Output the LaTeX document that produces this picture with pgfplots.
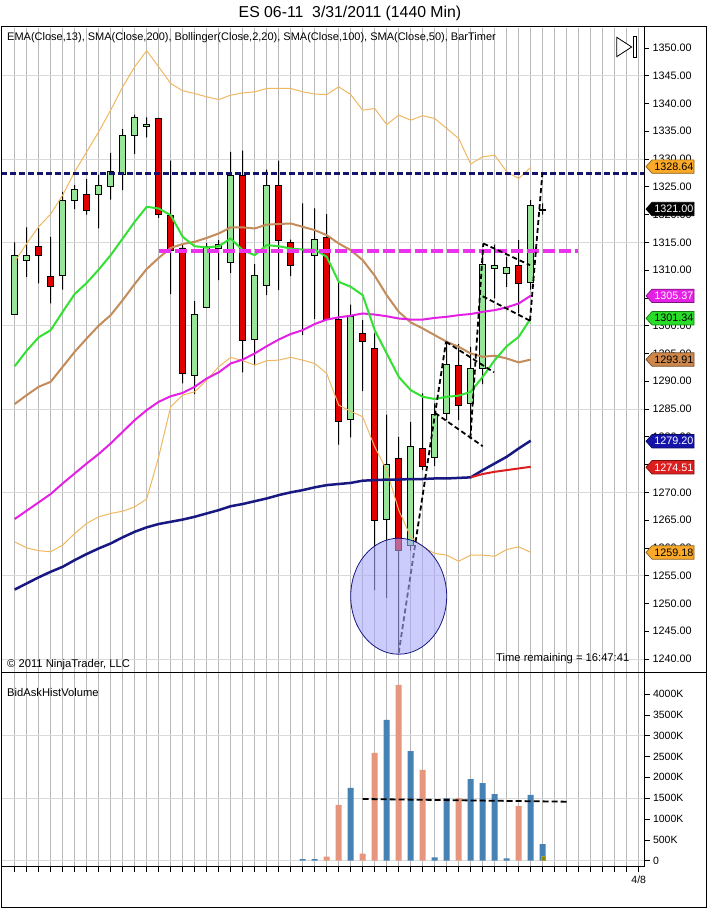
\documentclass[border=0pt]{standalone}
\usepackage{fontspec}
\setmainfont{Liberation Sans}
\usepackage{pgfplots}
\usepackage{pgfplotstable}
\pgfplotsset{compat=1.18}
\usetikzlibrary{calc}

\definecolor{candgreen}{RGB}{152,228,152}
\definecolor{candred}{RGB}{224,0,0}
\definecolor{bband}{RGB}{240,184,96}
\definecolor{emagreen}{RGB}{50,225,50}
\definecolor{smabrown}{RGB}{196,140,90}
\definecolor{smamag}{RGB}{228,32,228}
\definecolor{smanavy}{RGB}{24,24,130}
\definecolor{smared}{RGB}{220,30,30}
\definecolor{hnavy}{RGB}{20,20,110}
\definecolor{hmag}{RGB}{236,50,236}
\definecolor{volsal}{RGB}{230,150,125}
\definecolor{volblue}{RGB}{70,130,180}
\definecolor{vgrid}{RGB}{185,185,185}
\definecolor{hgrid}{RGB}{218,218,218}
\definecolor{ellfill}{RGB}{170,170,250}
\definecolor{flagorange}{RGB}{250,170,40}
\definecolor{flaggreen}{RGB}{40,220,40}
\definecolor{flagbrown}{RGB}{205,135,75}
\definecolor{flagnavy}{RGB}{20,20,170}

\pgfplotstableread{
i o h l c
0 1302.1 1315.0 1302.1 1312.7
1 1311.8 1317.7 1308.8 1312.7
2 1314.2 1317.5 1307.6 1312.6
3 1308.9 1316.0 1304.0 1307.1
4 1309.1 1324.1 1306.5 1322.6
5 1322.6 1325.3 1321.0 1324.5
6 1323.6 1326.4 1320.0 1320.8
7 1323.6 1327.2 1317.5 1325.3
8 1325.1 1331.1 1322.7 1327.8
9 1327.3 1335.4 1324.4 1334.3
10 1334.3 1338.0 1330.9 1337.5
11 1335.9 1337.5 1333.9 1336.2
12 1337.3 1337.4 1319.4 1320.0
13 1319.9 1329.7 1305.7 1313.6
14 1314.0 1314.8 1289.6 1291.4
15 1291.0 1304.4 1287.7 1302.0
16 1303.3 1314.9 1303.3 1314.2
17 1313.9 1315.4 1308.2 1314.6
18 1311.4 1331.3 1309.5 1327.1
19 1327.1 1331.5 1291.6 1297.3
20 1297.5 1311.1 1292.9 1309.1
21 1307.2 1328.1 1305.5 1325.3
22 1325.3 1329.7 1306.4 1315.4
23 1315.0 1315.5 1308.9 1310.8
24 1312.3 1322.0 1298.3 1312.3
25 1312.7 1321.1 1301.2 1315.5
26 1315.9 1320.1 1301.2 1301.2
27 1301.2 1307.9 1278.6 1282.7
28 1283.1 1303.8 1279.9 1301.6
29 1298.6 1301.0 1288.2 1297.1
30 1295.9 1298.6 1252.4 1265.0
31 1265.2 1284.0 1251.0 1275.0
32 1276.1 1280.0 1241.0 1259.6
33 1260.5 1282.7 1259.5 1278.2
34 1277.9 1287.8 1274.0 1274.6
35 1276.3 1286.0 1274.7 1284.0
36 1284.3 1297.0 1283.0 1293.0
37 1292.9 1296.7 1283.0 1285.6
38 1286.0 1296.2 1279.8 1292.3
39 1292.3 1313.0 1289.5 1311.1
40 1310.3 1314.6 1304.9 1310.8
41 1309.4 1312.4 1307.0 1310.5
42 1310.8 1315.4 1302.2 1307.6
43 1307.8 1322.6 1306.5 1321.7
44 1320.75 1322.0 1320.0 1321.0
}\candles

\pgfplotstableread{
i bu bl e b m n
0 1311.5 1261.1 1292.7 1285.9 1265.2 1252.5
1 1314.8 1260.0 1295.5 1287.5 1266.7 1253.6
2 1317.8 1259.5 1297.9 1289.0 1268.2 1254.7
3 1320.1 1259.3 1299.2 1289.9 1269.7 1255.7
4 1323.5 1260.5 1302.5 1292.6 1271.6 1256.6
5 1327.7 1262.6 1305.7 1295.3 1273.4 1257.8
6 1331.3 1264.4 1307.7 1297.7 1275.2 1258.9
7 1334.9 1265.6 1310.1 1300.0 1276.9 1259.9
8 1338.8 1266.2 1312.7 1301.9 1278.8 1260.8
9 1343.0 1266.6 1315.7 1304.6 1280.9 1261.9
10 1346.6 1267.4 1318.7 1307.5 1283.0 1262.9
11 1349.5 1268.8 1321.4 1310.2 1284.8 1263.7
12 1346.6 1276.4 1321.1 1312.2 1286.3 1264.3
13 1343.6 1285.4 1319.9 1314.0 1287.3 1264.7
14 1342.3 1287.5 1316.0 1314.7 1287.9 1265.1
15 1341.8 1288.1 1314.3 1315.1 1289.0 1265.6
16 1341.2 1290.2 1314.1 1315.8 1290.5 1266.2
17 1340.7 1292.6 1314.3 1316.6 1291.6 1266.8
18 1341.5 1294.3 1315.7 1317.7 1293.2 1267.5
19 1341.9 1293.7 1313.6 1317.7 1293.9 1267.9
20 1342.1 1292.9 1312.7 1317.5 1295.0 1268.4
21 1342.7 1293.7 1314.5 1318.2 1296.3 1268.9
22 1342.7 1293.8 1314.3 1318.3 1297.5 1269.5
23 1342.7 1294.3 1313.9 1318.4 1298.5 1270.0
24 1342.1 1293.8 1313.7 1317.8 1299.2 1270.4
25 1341.7 1293.2 1313.7 1317.2 1300.3 1270.9
26 1341.6 1291.4 1312.4 1316.3 1301.1 1271.3
27 1343.0 1285.7 1307.9 1314.8 1301.5 1271.5
28 1341.6 1284.6 1307.0 1313.6 1301.8 1271.7
29 1338.8 1283.6 1305.5 1311.8 1302.2 1272.1
30 1339.1 1278.2 1299.2 1309.0 1302.0 1272.2
31 1336.2 1274.0 1295.0 1305.5 1301.7 1272.3
32 1337.9 1266.8 1290.8 1302.5 1301.3 1272.3
33 1337.0 1262.0 1288.4 1300.6 1301.1 1272.4
34 1337.8 1260.2 1287.2 1299.5 1301.1 1272.4
35 1337.3 1259.0 1286.8 1298.3 1301.4 1272.5
36 1335.5 1258.7 1287.2 1297.1 1301.6 1272.5
37 1333.7 1257.6 1287.4 1296.2 1301.9 1272.6
38 1329.1 1258.7 1288.1 1295.0 1302.1 1272.7
39 1330.4 1258.7 1290.8 1294.4 1302.5 1274.0
40 1330.7 1258.5 1293.8 1294.6 1302.8 1275.2
41 1327.7 1259.7 1296.3 1294.1 1303.3 1276.4
42 1326.5 1260.2 1298.0 1293.4 1304.0 1277.9
43 1328.5 1259.2 1301.3 1293.9 1305.4 1279.3
}\ind

\pgfplotstableread{
i v
24 40
25 40
28 1745
31 3380
33 2630
35 80
36 1500
38 1960
39 1860
40 1600
41 55
43 1580
44 400
}\volup

\pgfplotstableread{
i v
26 100
27 1340
29 170
30 2590
32 4220
34 2180
37 1500
42 1310
}\voldn

\pgfplotsset{
  upperbase/.style={at={(1pt,237pt)}, anchor=south west, scale only axis,
    width=643pt, height=645pt, xmin=-1.14, xmax=52.44, ymin=1237.48, ymax=1353.59,
    axis line style={draw=none}},
}

\newcommand{\flag}[4]{%
  \draw[fill=#2, draw=#2!55!black, line width=0.7pt] ($(#1)+(2,0)$) -- ++(6,6.7) -- ++(42,0) -- ++(0,-13.4) -- ++(-42,0) -- cycle;
  \node[anchor=east, inner sep=0pt, text=#3, font=\fontsize{10.8}{12}\selectfont] at ($(#1)+(49.5,0)$) {#4};}

\begin{document}
\begin{tikzpicture}[x=1pt,y=1pt]
\useasboundingbox (0,0) rectangle (707,910);
\fill[white] (0,0) rectangle (707,910);

% ---------- upper panel: grid, ticks, wicks
\begin{axis}[upperbase,
  ybar stacked, bar width=1pt,
  xtick={0,...,52}, xticklabels={}, xtick style={draw=none},
  xmajorgrids, major grid style={color=vgrid, line width=0.8pt},
  ytick={1240,1245,...,1350},
  yticklabels={1240.00,1245.00,1250.00,1255.00,1260.00,1265.00,1270.00,1275.00,1280.00,1285.00,1290.00,1295.00,1300.00,1305.00,1310.00,1315.00,1320.00,1325.00,1330.00,1335.00,1340.00,1345.00,1350.00},
  ytick pos=right, yticklabel pos=right, tick align=outside, major tick length=5pt,
  ytick style={black, line width=0.7pt},
  yticklabel style={font=\fontsize{10.8}{12}\selectfont},
  extra y ticks={1240,1255,1270,1285,1300,1315,1330,1345},
  extra y tick labels={},
  extra y tick style={grid=major, major grid style={color=hgrid, line width=0.8pt}},
]
\addplot[draw=none, fill=none] table[x=i, y=l]{\candles};
\addplot[fill=black, draw=none] table[x=i, y expr=\thisrow{h}-\thisrow{l}]{\candles};
\end{axis}

% ---------- candle bodies
\begin{axis}[upperbase, hide axis, ybar stacked, bar width=6pt]
\addplot[draw=none, fill=none] table[x=i, y expr={min(\thisrow{o},\thisrow{c})}]{\candles};
\addplot[fill=candgreen, draw=black, line width=0.8pt] table[x=i, y expr={max(\thisrow{c}-\thisrow{o},0)}]{\candles};
\addplot[fill=candred, draw=black, line width=0.8pt] table[x=i, y expr={max(\thisrow{o}-\thisrow{c},0)}]{\candles};
\end{axis}

% ---------- indicators and drawings
\begin{axis}[upperbase, hide axis]
\addplot[bband, line width=1pt, mark=none] table[x=i, y=bu]{\ind};
\addplot[bband, line width=1pt, mark=none] table[x=i, y=bl]{\ind};
\addplot[smabrown, line width=2pt, mark=none] table[x=i, y=b]{\ind};
\addplot[smamag, line width=2pt, mark=none] table[x=i, y=m]{\ind};
\addplot[emagreen, line width=2pt, mark=none] table[x=i, y=e]{\ind};
\addplot[smanavy, line width=2.5pt, mark=none] table[x=i, y=n]{\ind};
\addplot[smared, line width=2pt, mark=none] coordinates {(38,1272.7) (39,1273.3) (40,1273.7) (41,1274.0) (42,1274.3) (43,1274.6)};
\addplot[hnavy, line width=2.2pt, dash pattern=on 6pt off 3pt, mark=none] coordinates {(-1.14,1327.4) (52.44,1327.4)};
\addplot[hmag, line width=4pt, dash pattern=on 12pt off 4pt, mark=none] coordinates {(12,1313.45) (46.9,1313.45)};
\addplot[black, line width=1.8pt, dash pattern=on 5pt off 3pt, mark=none] coordinates {(32.0,1241.1) (35.94,1297.1)};
\addplot[black, line width=1.8pt, dash pattern=on 5pt off 3pt, mark=none] coordinates {(35.94,1297.1) (39.94,1291.6)};
\addplot[black, line width=1.8pt, dash pattern=on 5pt off 3pt, mark=none] coordinates {(35.03,1284.3) (39.0,1278.3)};
\addplot[black, line width=1.8pt, dash pattern=on 5pt off 3pt, mark=none] coordinates {(37.97,1279.7) (39.05,1314.8)};
\addplot[black, line width=1.8pt, dash pattern=on 5pt off 3pt, mark=none] coordinates {(39.05,1314.8) (42.94,1310.9)};
\addplot[black, line width=1.8pt, dash pattern=on 5pt off 3pt, mark=none] coordinates {(39.0,1305.3) (42.94,1300.9)};
\addplot[black, line width=1.8pt, dash pattern=on 5pt off 3pt, mark=none] coordinates {(42.94,1300.9) (43.97,1327.4)};
\draw[fill=ellfill, fill opacity=0.6, draw=smanavy, line width=0.8pt] (axis cs:32,1251.3) ellipse [x radius=4, y radius=10.44];
\coordinate (fA) at (axis cs:52.44,1328.64);
\coordinate (fB) at (axis cs:52.44,1321.00);
\coordinate (fC) at (axis cs:52.44,1305.37);
\coordinate (fD) at (axis cs:52.44,1301.34);
\coordinate (fE) at (axis cs:52.44,1293.91);
\coordinate (fF) at (axis cs:52.44,1279.20);
\coordinate (fG) at (axis cs:52.44,1274.51);
\coordinate (fH) at (axis cs:52.44,1259.18);
\end{axis}

% ---------- volume panel
\begin{axis}[at={(1pt,43.3pt)}, anchor=south west, scale only axis,
  width=643pt, height=193.7pt, xmin=-1.14, xmax=52.44, ymin=-144, ymax=4504.8,
  axis line style={draw=none},
  ybar, bar width=6pt,
  xtick={0,...,52}, xticklabels={}, xtick pos=bottom,
  xmajorgrids, major grid style={color=vgrid, line width=0.8pt},
  extra x ticks={52}, extra x tick labels={4/8},
  ytick={0,500,...,4000},
  yticklabels={0,500K,1000K,1500K,2000K,2500K,3000K,3500K,4000K},
  ytick pos=right, yticklabel pos=right, tick align=outside, major tick length=5.5pt,
  tick style={black, line width=0.7pt},
  ticklabel style={font=\fontsize{10.5}{12}\selectfont},
  extra y ticks={0,1500,3000}, extra y tick labels={},
  extra y tick style={grid=major, major grid style={color=hgrid, line width=0.8pt}},
]
\addplot[fill=volblue, draw=none, bar shift=0pt] table[x=i, y=v]{\volup};
\addplot[fill=volsal, draw=none, bar shift=0pt] table[x=i, y=v]{\voldn};
\addplot[fill=olive, draw=yellow!60!black, bar width=4pt, bar shift=0pt] coordinates {(44,110)};
\addplot[sharp plot, black, line width=1.8pt, dash pattern=on 6pt off 3pt, mark=none] coordinates {(29,1481) (46,1416)};
\end{axis}

% ---------- frames
\draw[black, line width=1pt] (1,2) rectangle (706,883);
\draw[black, line width=1pt] (1,237) -- (706,237);
\draw[black, line width=1pt] (644,883) -- (644,43.3);
\draw[black, line width=1pt] (1,43.3) -- (644,43.3);

% ---------- flags
\flag{fA}{flagorange}{black}{1328.64}
\flag{fB}{black}{white}{1321.00}
\flag{fC}{smamag}{white}{1305.37}
\flag{fD}{flaggreen}{black}{1301.34}
\flag{fE}{flagbrown}{black}{1293.91}
\flag{fF}{flagnavy}{white}{1279.20}
\flag{fG}{smared}{white}{1274.51}
\flag{fH}{flagorange}{black}{1259.18}

% ---------- bar timer icon
\draw[fill=white, draw=black, line width=0.8pt] (616.7,872.7) -- (616.7,853.3) -- (631.7,863) -- cycle;
\draw[fill=white, draw=black, line width=0.8pt] (633.3,852.7) rectangle (636.7,873.3);

% ---------- texts
\node[font=\fontsize{15.8}{18}\selectfont] at (350,897) {ES 06-11\ \ 3/31/2011 (1440 Min)};
\node[anchor=west, inner sep=0pt, font=\fontsize{11}{13}\selectfont] at (7,872) {EMA(Close,13), SMA(Close,200), Bollinger(Close,2,20), SMA(Close,100), SMA(Close,50), BarTimer};
\node[anchor=west, inner sep=0pt, font=\fontsize{11.2}{13}\selectfont] at (7,245) {\textcopyright{} 2011 NinjaTrader, LLC};
\node[anchor=east, inner sep=0pt, font=\fontsize{11.2}{13}\selectfont] at (629.5,251) {Time remaining = 16:47:41};
\node[anchor=west, inner sep=0pt, font=\fontsize{11.2}{13}\selectfont] at (7,218) {BidAskHistVolume};
\end{tikzpicture}
\end{document}
